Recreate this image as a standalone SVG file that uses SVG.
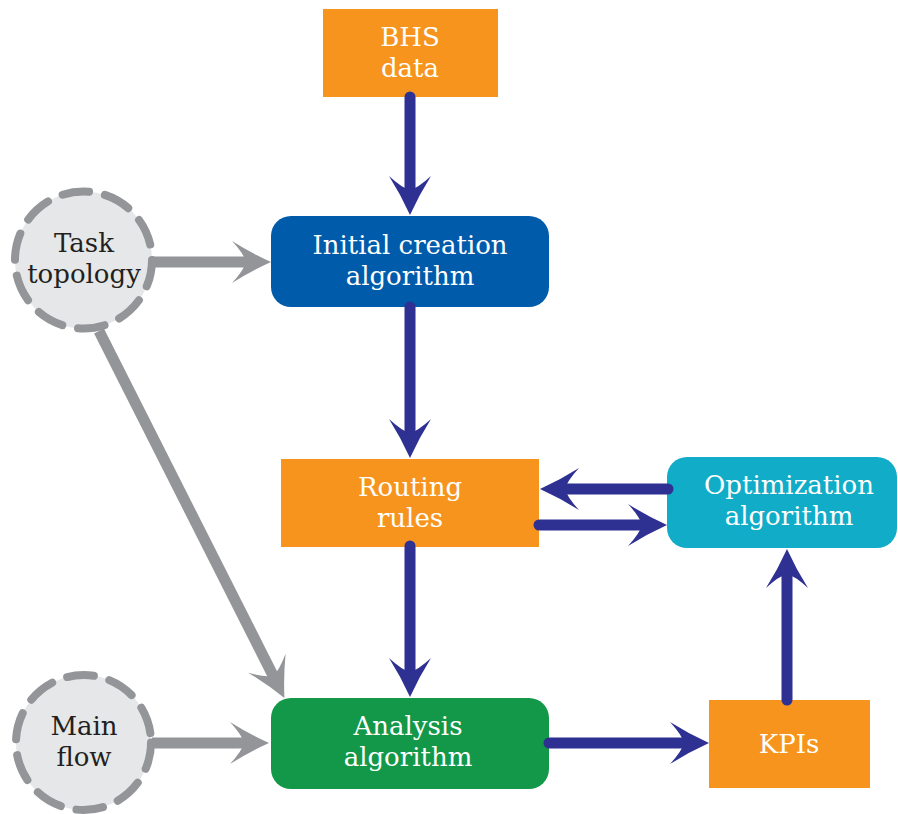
<svg xmlns="http://www.w3.org/2000/svg" width="898" height="814" viewBox="0 0 898 814">
  <defs>
    <style>
      .lbl { font-family: "DejaVu Serif", "Liberation Serif", serif; font-size: 26px; text-anchor: middle; }
      .light { fill: #ffffff; }
      .dark { fill: #231f20; }
      .orange { fill: #f7941e; }
      .blue { fill: #005baa; }
      .cyan { fill: #10acc8; }
      .green { fill: #129848; }
      .source { fill: #e6e7e8; stroke: #939598; stroke-width: 8; stroke-dasharray: 27 16; stroke-linecap: round; }
      .flow { fill: none; stroke: #2e3192; stroke-width: 11; stroke-linecap: round; marker-end: url(#headBlue); }
      .feed { fill: none; stroke: #939598; stroke-width: 11; stroke-linecap: butt; marker-end: url(#headGray); }
    </style>
    <marker id="headBlue" markerUnits="userSpaceOnUse" viewBox="-45 -25 50 50" markerWidth="50" markerHeight="50" refX="-22" refY="0" orient="auto" overflow="visible">
      <path d="M0,0 Q-20,-9 -39,-21 Q-27,-8 -25,0 Q-27,8 -39,21 Q-20,9 0,0 Z" fill="#2e3192"/>
    </marker>
    <marker id="headGray" markerUnits="userSpaceOnUse" viewBox="-45 -25 50 50" markerWidth="50" markerHeight="50" refX="-22" refY="0" orient="auto" overflow="visible">
      <path d="M0,0 Q-20,-9 -39,-21 Q-27,-8 -25,0 Q-27,8 -39,21 Q-20,9 0,0 Z" fill="#939598"/>
    </marker>
  </defs>

  <rect width="898" height="814" fill="#ffffff"/>

  <!-- nodes -->
  <g id="bhs-data">
    <rect class="orange" x="323" y="9" width="175" height="88"/>
    <text class="lbl light" x="410" y="46">BHS</text>
    <text class="lbl light" x="410" y="77">data</text>
  </g>

  <g id="initial-creation">
    <rect class="blue" x="271" y="216" width="278" height="91" rx="20"/>
    <text class="lbl light" x="410" y="254">Initial creation</text>
    <text class="lbl light" x="410" y="285">algorithm</text>
  </g>

  <g id="task-topology">
    <circle class="source" cx="83.5" cy="260" r="68.5"/>
    <text class="lbl dark" x="84" y="252">Task</text>
    <text class="lbl dark" x="84" y="283">topology</text>
  </g>

  <g id="routing-rules">
    <rect class="orange" x="281" y="459" width="258" height="88"/>
    <text class="lbl light" x="410" y="496">Routing</text>
    <text class="lbl light" x="410" y="527">rules</text>
  </g>

  <g id="optimization">
    <rect class="cyan" x="667" y="457" width="230" height="91" rx="20"/>
    <text class="lbl light" x="789" y="494">Optimization</text>
    <text class="lbl light" x="789" y="525">algorithm</text>
  </g>

  <g id="analysis">
    <rect class="green" x="271" y="698" width="278" height="91" rx="20"/>
    <text class="lbl light" x="408" y="735">Analysis</text>
    <text class="lbl light" x="408" y="766">algorithm</text>
  </g>

  <g id="main-flow">
    <circle class="source" cx="83.5" cy="742.5" r="67.5"/>
    <text class="lbl dark" x="84" y="735">Main</text>
    <text class="lbl dark" x="84" y="766">flow</text>
  </g>

  <g id="kpis">
    <rect class="orange" x="709" y="700" width="161" height="88"/>
    <text class="lbl light" x="789" y="753">KPIs</text>
  </g>

  <!-- connectors, drawn over the node edges -->
  <g id="connectors">
    <path class="flow" d="M410,97 L410,193"/>
    <path class="flow" d="M410,307 L410,436"/>
    <path class="flow" d="M410,546 L410,675"/>
    <path class="flow" d="M668,489 L562,489"/>
    <path class="flow" d="M539,525 L645,525"/>
    <path class="flow" d="M787,700 L787,571"/>
    <path class="flow" d="M549,743 L687,743"/>
    <path class="feed" d="M152,262 L249,262"/>
    <path class="feed" d="M152,743 L247,743"/>
    <path class="feed" d="M99,331 L274.5,678.4"/>
  </g>
</svg>
